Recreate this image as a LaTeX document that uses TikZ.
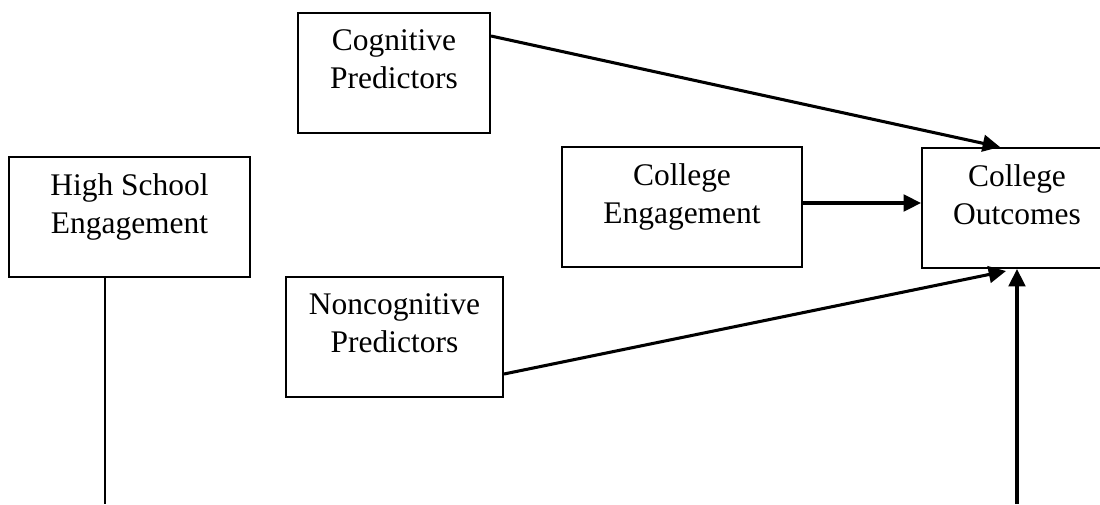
\documentclass[tikz,border=0pt]{standalone}
\usepackage{fontspec}
\setmainfont{Liberation Serif}
\usepackage{tikz}
\usetikzlibrary{calc}
\usetikzlibrary{arrows.meta}
\usetikzlibrary{positioning}
\tikzset{
  varbox/.style={draw, line width=1.5pt, inner sep=0pt, minimum height=90pt, anchor=north west},
  vartext/.style={align=center, inner sep=0pt, anchor=north, font=\fontsize{23.6}{28}\selectfont},
  link/.style={line width=2.3pt, -{Triangle[length=13pt,width=12.5pt]}},
  plainlink/.style={line width=1.5pt}
}
\newcommand{\varbox}[5]{ \node[varbox, minimum width=#4*0.75pt] (#1) at ( #2 , #3 ) {};
  \node[vartext] (#1-t) at ([yshift=-13.2pt]#1.north) {#5};}

\begin{document}
\begin{tikzpicture}[x=0.75pt,y=-0.75pt]
            \useasboundingbox (0,0) rectangle (1100,504);
            \clip (0,0) rectangle (1100,504);
            % boxes
            \varbox{cog}{297}{12}{192}{Cognitive\\Predictors}
            \varbox{hs}{8}{156}{241}{High School\\Engagement}
            \varbox{ce}{561}{146}{240}{College\\Engagement}
            \varbox{co}{921}{147}{190}{College\\Outcomes}
            \varbox{nc}{285}{276}{217}{Noncognitive\\Predictors}

            % bottom ends
            \coordinate (hsend) at (105,504);
            \coordinate (coend) at (1017,504);

            % arrows
            \draw[link] ($(cog.north east)+(0,24)$) -- ($(co.north west)+(79,0)$);
            \draw[link] ($(ce.north east)+(0,57)$) -- ($(co.north west)+(0,56)$);
            \draw[link] ($(nc.south east)+(0,-24)$) -- ($(co.south west)+(85,2)$);
            \draw[link] (coend) -- (coend |- co.south);
            \draw[plainlink] (hsend |- hs.south) -- (hsend);
\end{tikzpicture}
\end{document}
